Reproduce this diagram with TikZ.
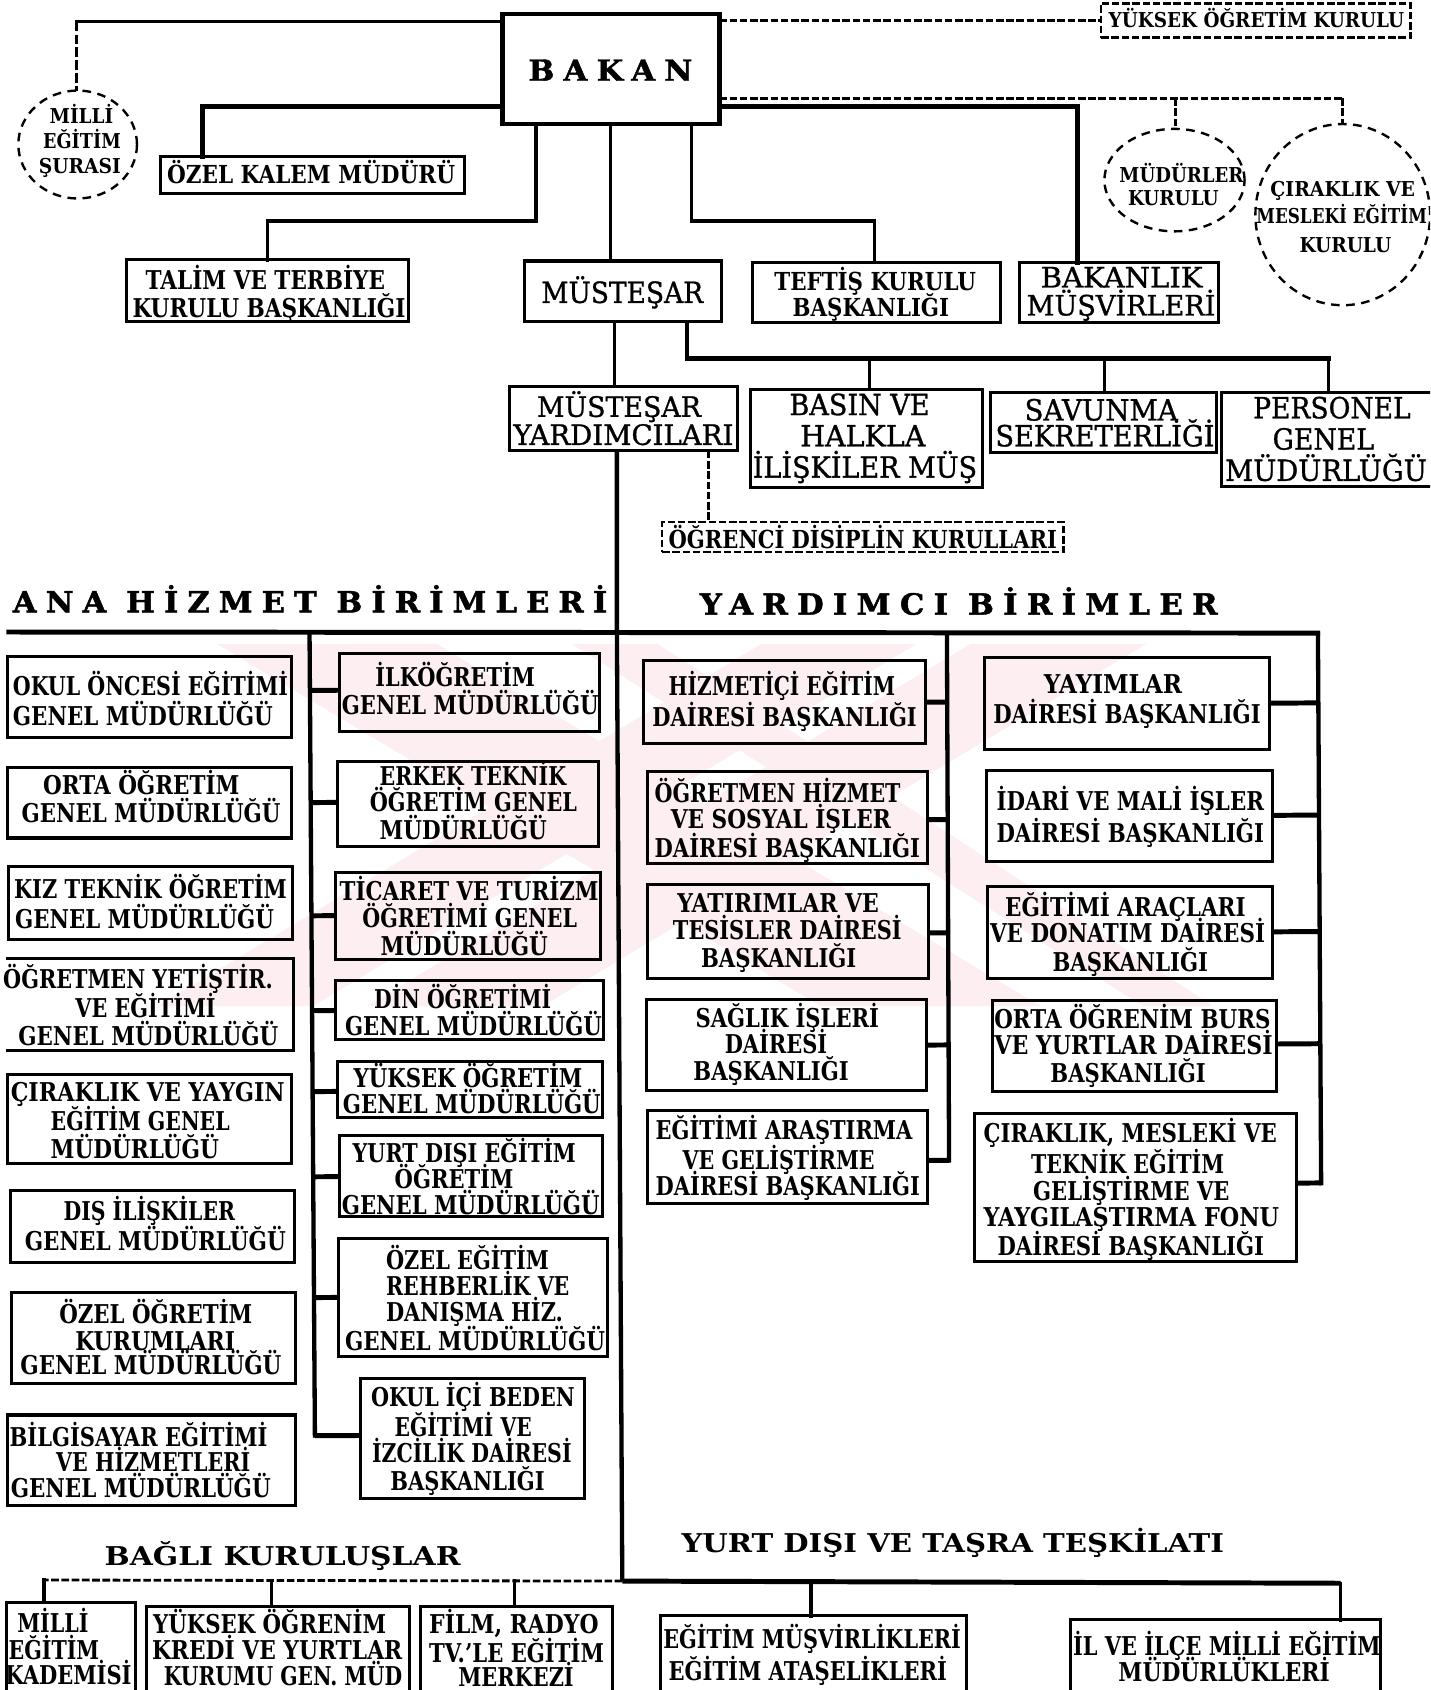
\documentclass[tikz,border=0pt]{standalone}
\usepackage{fontspec}
\usepackage{graphicx}
\usetikzlibrary{calc,shapes.geometric}
\setmainfont{DejaVu Serif}
\newfontfamily\spfont[LetterSpace=30,BoldFeatures={FakeBold=1.5}]{DejaVu Serif}
\newfontfamily\medfont[FakeBold=1]{DejaVu Serif}
\newcounter{tlc}
\definecolor{wmpink}{HTML}{FDEEF1}
\tikzset{
  bbox/.style={draw=black,line width=2.8pt,inner sep=0pt,outer sep=0pt},
  nobox/.style={inner sep=0pt,outer sep=0pt},
  hbox/.style={draw=black,line width=4.2pt,inner sep=0pt,outer sep=0pt},
  dbox/.style={draw=black,line width=2.4pt,dash pattern=on 7pt off 2.5pt,inner sep=0pt,outer sep=0pt},
  dcirc/.style={ellipse,draw=black,line width=2.2pt,dash pattern=on 8pt off 6pt,inner sep=0pt,outer sep=0pt},
  txt/.style={inner sep=0pt,outer sep=0pt,anchor=base,text=black},
  thk/.style={draw=black,line width=4.6pt,line cap=rect},
  med/.style={draw=black,line width=3.2pt,line cap=rect},
  trunk/.style={draw=black,line width=4pt},
  stubl/.style={draw=black,line width=4.6pt},
  dsh/.style={draw=black,line width=2.6pt,dash pattern=on 7pt off 2.5pt},
  dshv/.style={draw=black,line width=2.4pt,dash pattern=on 9pt off 3pt},
  wm/.style={fill=wmpink,draw=none},
}
% box from corners
\newcommand\bx[6][bbox]{\node[#1,minimum width={(#4-#2)*1pt},minimum height={(#5-#3)*1pt}] (#6) at ({(#2+#4)/2},{(#3+#5)/2}) {};}
% a line of text, fitted between x1 and x2, caps centred on yc
\newcommand\tl[5][24]{\stepcounter{tlc}\node[txt] (t\arabic{tlc}) at ({(#2+#3)/2},{#4+0.365*#1}) {\fontsize{#1}{#1}\selectfont\bfseries\resizebox{\dimexpr#3pt-#2pt\relax}{\height}{#5}};}
\newcommand\tr[5][27]{\stepcounter{tlc}\node[txt] (t\arabic{tlc}) at ({(#2+#3)/2},{#4+0.365*#1}) {\fontsize{#1}{#1}\selectfont\medfont\resizebox{\dimexpr#3pt-#2pt\relax}{\height}{#5}};}
\newcommand\tsp[5][27]{\stepcounter{tlc}\node[txt] (t\arabic{tlc}) at ({(#2+#3)/2},{#4+0.365*#1}) {\fontsize{#1}{#1}\selectfont\spfont\bfseries\resizebox{\dimexpr#3pt-#2pt\relax}{\height}{#5}};}
% stub from a box side to a slanted vertical
\newcommand\stubto[4]{\draw[stubl] (#1 |- 0,#2) -- ($(#3)!(#1 |- 0,#2)!(#4)$);}
\begin{document}
\begin{tikzpicture}[x=1pt,y=-1pt]
\useasboundingbox (0,0) rectangle (1326,1567);
\clip (0,0) rectangle (1326,1567);
% watermark
\fill[wm] (201,597) -- (405,597) -- (965,933) -- (761,933) -- cycle;
\fill[wm] (900,597) -- (1063,597) -- (503,933) -- (340,933) -- cycle;
\fill[wm] (706,597) -- (850,597) -- (290,933) -- (146,933) -- cycle;
\fill[wm] (530,597) -- (610,597) -- (1125,933) -- (1060,933) -- cycle;
% top boxes
\bx[hbox]{466}{13}{667}{115}{bakan}
\bx[dbox]{1021}{3}{1308}{35}{yok}
\bx{149}{145}{431}{179}{ozel}
\bx{117}{241}{379}{298}{talim}
\bx{486}{242}{669}{298}{mus}
\bx{698}{243}{928}{299}{teftis}
\bx{945}{243}{1130}{299}{muvr}
\bx{472}{358}{684}{418}{yard}
\bx{696}{361}{911}{452}{basin}
\bx{918}{364}{1128}{420}{sav}
\bx{1133}{364}{1340}{451}{pers}
\bx[dbox]{614}{484}{986}{512}{ogd}
\node[dcirc,minimum width=110pt,minimum height=100pt] (mec) at (72,134) {};
\node[dcirc,minimum width=130pt,minimum height=95pt] (mk) at (1089,167) {};
\node[dcirc,minimum width=162pt,minimum height=168pt] (cm) at (1245,199) {};
% col 1
\bx{7}{609}{270}{684}{a1}
\bx{7}{712}{270}{777}{a2}
\bx{8}{803}{271}{871}{a3}
\bx[nobox]{6}{889}{272}{974}{a4}
\draw[line width=2.8pt] (a4.north west) -- (a4.north east) -- (a4.south east) -- (a4.south west);
\bx{7}{996}{270}{1079}{a5}
\bx{10}{1104}{273}{1171}{a6}
\bx{11}{1198}{274}{1283}{a7}
\bx{7}{1312}{274}{1396}{a8}
% col 2
\bx{315}{606}{556}{678}{b1}
\bx{313}{706}{555}{785}{b2}
\bx{311}{809}{557}{890}{b3}
\bx{311}{909}{560}{964}{b4}
\bx{313}{984}{559}{1036}{b5}
\bx{315}{1053}{559}{1128}{b6}
\bx{314}{1148}{563}{1258}{b7}
\bx{334}{1278}{542}{1389}{b8}
% col 3
\bx{597}{612}{858}{689}{c1}
\bx{600}{715}{860}{801}{c2}
\bx{600}{820}{861}{907}{c3}
\bx{599}{927}{859}{1011}{c4}
\bx{600}{1030}{860}{1116}{c5}
% col 4
\bx{913}{610}{1177}{695}{d1}
\bx{915}{714}{1180}{799}{d2}
\bx{916}{822}{1180}{907}{d3}
\bx{920}{928}{1184}{1012}{d4}
\bx{904}{1032}{1202}{1170}{d5}
% bottom
\bx{6}{1486}{126}{1585}{e1}
\bx{136}{1490}{380}{1585}{e2}
\bx{390}{1490}{568}{1585}{e3}
\bx{612}{1498}{896}{1585}{e4}
\bx{993}{1502}{1280}{1585}{e5}
% connectors from BAKAN
\draw[med] (bakan.west |- 0,20) -- (71,20) coordinate (mecc);
\draw[dshv] (mecc) -- (mec.north -| mecc);
\draw[thk] (bakan.west |- 0,99) -| (ozel.north -| 188,0);
\draw[med] (bakan.south -| 497,0) |- (248,205) coordinate (tc) -- (talim.north -| tc);
\draw[med] (bakan.south -| 566,0) -- (mus.north -| 566,0);
\draw[med] (bakan.south -| 641,0) |- (811,205) coordinate (tfc) -- (teftis.north -| tfc);
\draw[thk] (bakan.east |- 0,99) -| (muvr.north -| 999,0);
\draw[dsh] (bakan.east |- 0,19) -- (yok.west |- 0,19);
\draw[dsh] (bakan.east |- 0,91) -- (1245,91) coordinate (dr);
\draw[dsh] (dr) -- (cm.north -| dr);
\draw[dsh] (1090,91) coordinate (dm) -- (mk.north -| dm);
% MÜSTEŞAR
\draw[med] (mus.south -| 570,0) -- (yard.north -| 570,0);
\draw[med] (mus.south -| 637,0) |- (1232,332) coordinate (rb) -- (pers.north -| rb);
\draw[thk] (637,332) -- (rb);
\draw[med] (806,332) coordinate (rb1) -- (basin.north -| rb1);
\draw[med] (1024,332) coordinate (rb2) -- (sav.north -| rb2);
\draw[dsh] (yard.south -| 657,0) -- (ogd.north -| 657,0);
% trunk and bus
\coordinate (ta) at (572,586);
\coordinate (tb) at (577,1466);
\draw[trunk] (yard.south -| 572,0) -- (ta) -- (tb);
\coordinate (busl) at (6,586);
\coordinate (busr) at (1224,587);
\draw[thk,line cap=butt] (busl) -- (busr);
\coordinate (v1a) at (287,586); \coordinate (v1b) at (292,1333);
\coordinate (v2a) at (878,586); \coordinate (v2b) at (880,1078);
\coordinate (v3a) at (1222,586); \coordinate (v3b) at (1225,1099);
\draw[trunk] (v1a) -- (v1b);
\draw[trunk] (v2a) -- (v2b);
\draw[trunk] (v3a) -- (v3b);
\stubto{b1.west}{640}{v1a}{v1b}
\stubto{b2.west}{744}{v1a}{v1b}
\stubto{b3.west}{849}{v1a}{v1b}
\stubto{b4.west}{937}{v1a}{v1b}
\stubto{b5.west}{1012}{v1a}{v1b}
\stubto{b6.west}{1091}{v1a}{v1b}
\stubto{b7.west}{1203}{v1a}{v1b}
\stubto{b8.west}{1331}{v1a}{v1b}
\stubto{c1.east}{651}{v2a}{v2b}
\stubto{c2.east}{760}{v2a}{v2b}
\stubto{c3.east}{865}{v2a}{v2b}
\stubto{c4.east}{969}{v2a}{v2b}
\stubto{c5.east}{1076}{v2a}{v2b}
\stubto{d1.east}{652}{v3a}{v3b}
\stubto{d2.east}{756}{v3a}{v3b}
\stubto{d3.east}{864}{v3a}{v3b}
\stubto{d4.east}{968}{v3a}{v3b}
\stubto{d5.east}{1097}{v3a}{v3b}
% bottom bus
\draw[dsh] (tb) -- (41,1465) coordinate (bl);
\draw[med] (bl) -- (e1.north -| bl);
\draw[med,line width=2.4pt] (252,1465) coordinate (bl2) -- (e2.north -| bl2);
\draw[med,line width=2.4pt] (477,1465) coordinate (bl3) -- (e3.north -| bl3);
\draw[thk,line cap=butt] (tb) -- (1243,1468) coordinate (br);
\draw[thk,line width=4pt] (752,1467) coordinate (br1) -- (e4.north -| br1);
\draw[med] (br) -- (e5.north -| br);
% texts
\tsp[27]{490}{642}{65}{BAKAN}
\tl[19]{1028}{1302}{19}{YÜKSEK ÖĞRETİM KURULU}
\tl[19]{46}{105}{108}{MİLLİ}
\tl[19]{40}{112}{131}{EĞİTİM}
\tl[19]{36}{112}{154}{ŞURASI}
\tl[19]{1038}{1153}{162}{MÜDÜRLER}
\tl[19]{1046}{1130}{184}{KURULU}
\tl[19]{1178}{1312}{175}{ÇIRAKLIK VE}
\tl[19]{1165}{1323}{200}{MESLEKİ EĞİTİM}
\tl[19]{1205}{1290}{227}{KURULU}
\tl[23]{155}{422}{162}{ÖZEL KALEM MÜDÜRÜ}
\tl{135}{357}{260}{TALİM VE TERBİYE}
\tl{123}{376}{286}{KURULU BAŞKANLIĞI}
\tr{502}{652}{271}{MÜSTEŞAR}
\tl[23]{718}{905}{261}{TEFTİŞ KURULU}
\tl[23]{735}{880}{285}{BAŞKANLIĞI}
\tr[26]{965}{1115}{257}{BAKANLIK}
\tr[26]{952}{1127}{283}{MÜŞVİRLERİ}
\tr[26]{498}{650}{377}{MÜSTEŞAR}
\tr[26]{476}{680}{403}{YARDIMCILARI}
\tr{732}{862}{375}{BASIN VE}
\tr{742}{858}{404}{HALKLA}
\tr{698}{906}{433}{İLİŞKİLER MÜŞ}
\tr{950}{1092}{380}{SAVUNMA}
\tr{923}{1126}{404}{SEKRETERLİĞİ}
\tr{1162}{1308}{378}{PERSONEL}
\tr{1180}{1274}{407}{GENEL}
\tr{1136}{1323}{436}{MÜDÜRLÜĞÜ}
\tl[23]{620}{980}{500}{ÖĞRENCİ DİSİPLİN KURULLARI}
\tsp[27]{12}{563}{558}{ANA HİZMET BİRİMLERİ}
\tsp[27]{649}{1129}{560}{YARDIMCI BİRİMLER}
% col 1 text
\tl{12}{267}{636}{OKUL ÖNCESİ EĞİTİMİ}
\tl{12}{253}{664}{GENEL MÜDÜRLÜĞÜ}
\tl{40}{222}{728}{ORTA ÖĞRETİM}
\tl{20}{260}{754}{GENEL MÜDÜRLÜĞÜ}
\tl{13}{266}{824}{KIZ TEKNİK ÖĞRETİM}
\tl{14}{254}{852}{GENEL MÜDÜRLÜĞÜ}
\tl{3}{253}{908}{ÖĞRETMEN YETİŞTİR.}
\tl{70}{200}{935}{VE EĞİTİMİ}
\tl{17}{258}{961}{GENEL MÜDÜRLÜĞÜ}
\tl{10}{264}{1013}{ÇIRAKLIK VE YAYGIN}
\tl{47}{213}{1039}{EĞİTİM GENEL}
\tl{47}{203}{1065}{MÜDÜRLÜĞÜ}
\tl{59}{218}{1123}{DIŞ İLİŞKİLER}
\tl{23}{265}{1151}{GENEL MÜDÜRLÜĞÜ}
\tl{55}{234}{1218}{ÖZEL ÖĞRETİM}
\tl{70}{218}{1243}{KURUMLARI}
\tl{19}{261}{1266}{GENEL MÜDÜRLÜĞÜ}
\tl{9}{248}{1332}{BİLGİSAYAR EĞİTİMİ}
\tl{52}{232}{1356}{VE HİZMETLERİ}
\tl{10}{251}{1380}{GENEL MÜDÜRLÜĞÜ}
% col 2 text
\tl{348}{496}{628}{İLKÖĞRETİM}
\tl{317}{555}{654}{GENEL MÜDÜRLÜĞÜ}
\tl{352}{525}{720}{ERKEK TEKNİK}
\tl{343}{535}{744}{ÖĞRETİM GENEL}
\tl{352}{507}{770}{MÜDÜRLÜĞÜ}
\tl{315}{555}{826}{TİCARET VE TURİZM}
\tl{336}{535}{851}{ÖĞRETİMİ GENEL}
\tl{353}{508}{877}{MÜDÜRLÜĞÜ}
\tl{347}{511}{926}{DİN ÖĞRETİMİ}
\tl{320}{558}{951}{GENEL MÜDÜRLÜĞÜ}
\tl{328}{540}{1000}{YÜKSEK ÖĞRETİM}
\tl{318}{557}{1024}{GENEL MÜDÜRLÜĞÜ}
\tl{327}{534}{1069}{YURT DIŞI EĞİTİM}
\tl{366}{476}{1093}{ÖĞRETİM}
\tl{317}{556}{1117}{GENEL MÜDÜRLÜĞÜ}
\tl{358}{509}{1168}{ÖZEL EĞİTİM}
\tl{358}{528}{1192}{REHBERLİK VE}
\tl{358}{522}{1217}{DANIŞMA HİZ.}
\tl{320}{561}{1243}{GENEL MÜDÜRLÜĞÜ}
\tl{344}{533}{1295}{OKUL İÇİ BEDEN}
\tl{366}{493}{1323}{EĞİTİMİ VE}
\tl{345}{530}{1347}{İZCİLİK DAİRESİ}
\tl{362}{505}{1373}{BAŞKANLIĞI}
% col 3 text
\tl{620}{830}{636}{HİZMETİÇİ EĞİTİM}
\tl{605}{850}{665}{DAİRESİ BAŞKANLIĞI}
\tl{607}{835}{735}{ÖĞRETMEN HİZMET}
\tl{622}{826}{759}{VE SOSYAL İŞLER}
\tl{607}{853}{786}{DAİRESİ BAŞKANLIĞI}
\tl{628}{815}{837}{YATIRIMLAR VE}
\tl{624}{836}{862}{TESİSLER DAİRESİ}
\tl{650}{794}{888}{BAŞKANLIĞI}
\tl{645}{815}{944}{SAĞLIK İŞLERİ}
\tl{672}{767}{968}{DAİRESİ}
\tl{643}{787}{993}{BAŞKANLIĞI}
\tl{608}{846}{1048}{EĞİTİMİ ARAŞTIRMA}
\tl{633}{811}{1076}{VE GELİŞTİRME}
\tl{608}{853}{1100}{DAİRESİ BAŞKANLIĞI}
% col 4 text
\tl{968}{1096}{634}{YAYIMLAR}
\tl{921}{1169}{662}{DAİRESİ BAŞKANLIĞI}
\tl{924}{1172}{743}{İDARİ VE MALİ İŞLER}
\tl{924}{1172}{772}{DAİRESİ BAŞKANLIĞI}
\tl{932}{1155}{841}{EĞİTİMİ ARAÇLARI}
\tl{918}{1173}{865}{VE DONATIM DAİRESİ}
\tl{976}{1120}{892}{BAŞKANLIĞI}
\tl{922}{1178}{945}{ORTA ÖĞRENİM BURS}
\tl{922}{1180}{969}{VE YURTLAR DAİRESİ}
\tl{974}{1118}{995}{BAŞKANLIĞI}
\tl{912}{1184}{1051}{ÇIRAKLIK, MESLEKİ VE}
\tl{956}{1135}{1079}{TEKNİK EĞİTİM}
\tl{958}{1140}{1104}{GELİŞTİRME VE}
\tl{912}{1186}{1128}{YAYGILAŞTIRMA FONU}
\tl{925}{1172}{1155}{DAİRESİ BAŞKANLIĞI}
% bottom text
\tl{97}{427}{1443}{BAĞLI KURULUŞLAR}
\tl{632}{1135}{1431}{YURT DIŞI VE TAŞRA TEŞKİLATI}
\tl{16}{82}{1505}{MİLLİ}
\tl{8}{92}{1530}{EĞİTİM}
\tl{5}{122}{1553}{KADEMİSİ}
\tl{142}{358}{1506}{YÜKSEK ÖĞRENİM}
\tl{141}{373}{1530}{KREDİ VE YURTLAR}
\tl{152}{373}{1554}{KURUMU GEN. MÜD}
\tl{398}{555}{1506}{FİLM, RADYO}
\tl{398}{560}{1533}{TV.'LE EĞİTİM}
\tl{425}{532}{1555}{MERKEZİ}
\tl{615}{891}{1520}{EĞİTİM MÜŞVİRLİKLERİ}
\tl{620}{878}{1549}{EĞİTİM ATAŞELİKLERİ}
\tl{995}{1280}{1526}{İL VE İLÇE MİLLİ EĞİTİM}
\tl{1037}{1233}{1550}{MÜDÜRLÜKLERİ}
\end{tikzpicture}
\end{document}
